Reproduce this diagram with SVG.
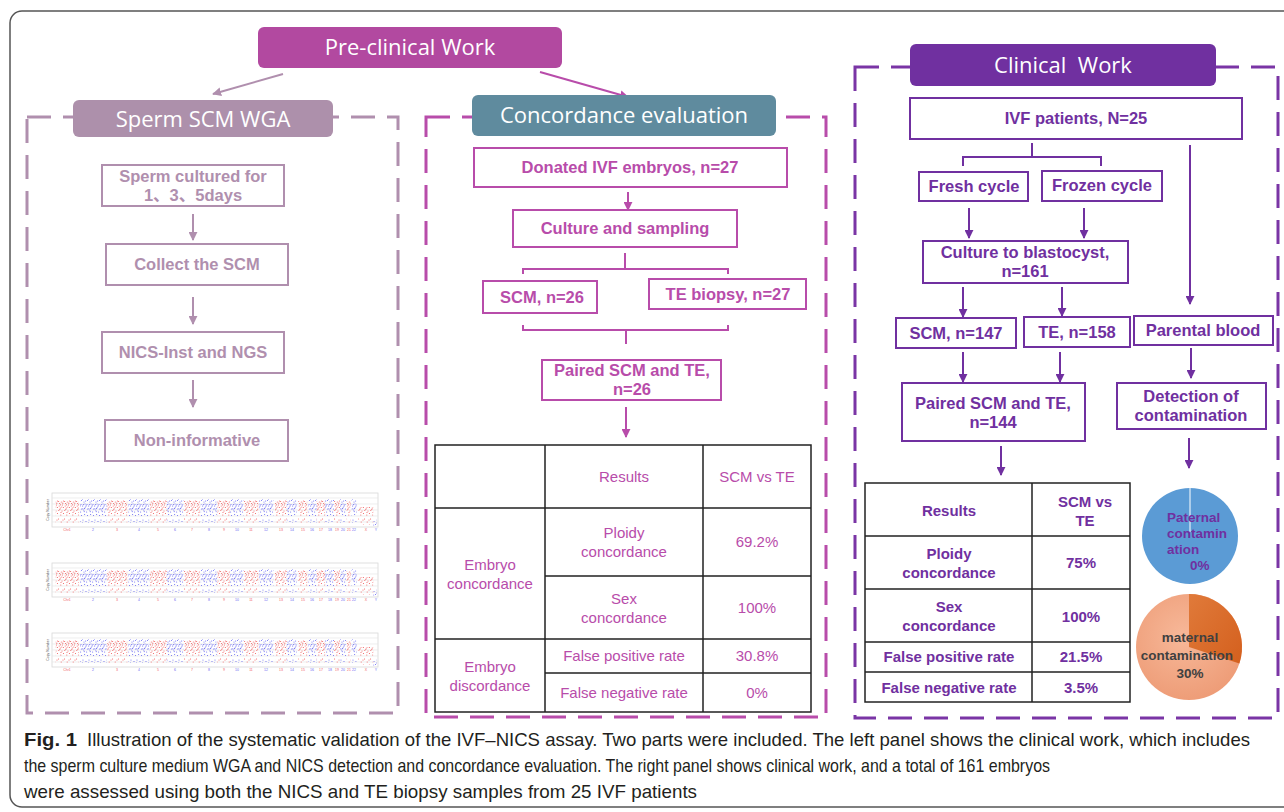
<svg xmlns="http://www.w3.org/2000/svg" xmlns:xlink="http://www.w3.org/1999/xlink" width="1284" height="812" viewBox="0 0 1284 812">
<style>
text{font-family:"Liberation Sans","Noto Sans CJK SC",sans-serif}
.hd{font-family:"Open Sans","Noto Sans",sans-serif;font-size:22px;fill:#fff;text-anchor:middle}
.lb{font-size:16.5px;font-weight:bold;text-anchor:middle}
.mv{fill:none;stroke:#b08fae;stroke-width:2}
.mg{fill:none;stroke:#b84caa;stroke-width:2}
.pp{fill:none;stroke:#7030a0;stroke-width:2}
.tmv{fill:#b08fae}.tmg{fill:#b84caa}.tpp{fill:#7030a0}
.dash{fill:none;stroke-width:3;stroke-dasharray:24 12}
.tb{fill:none;stroke:#222;stroke-width:1.5}
.tt{font-size:15px;text-anchor:middle}
.cap{font-family:"Liberation Sans",Arial,sans-serif;font-size:19px;fill:#231f20}
.grid{stroke:#e2e2e2;stroke-width:0.6}
.chl{font-size:3.5px;text-anchor:middle}
</style>
<defs>
<marker id="amv" viewBox="0 0 10 10" refX="9" refY="5" markerWidth="9" markerHeight="9" markerUnits="userSpaceOnUse" orient="auto"><path d="M0,0 L10,5 L0,10 z" fill="#b08fae"/></marker>
<marker id="amg" viewBox="0 0 10 10" refX="9" refY="5" markerWidth="9" markerHeight="9" markerUnits="userSpaceOnUse" orient="auto"><path d="M0,0 L10,5 L0,10 z" fill="#b84caa"/></marker>
<marker id="app" viewBox="0 0 10 10" refX="9" refY="5" markerWidth="9" markerHeight="9" markerUnits="userSpaceOnUse" orient="auto"><path d="M0,0 L10,5 L0,10 z" fill="#7030a0"/></marker>
<pattern id="pr" patternUnits="userSpaceOnUse" width="6" height="24">
<g fill="#f05050" opacity="0.85">
<circle cx="0.5" cy="2" r="0.6"/><circle cx="3.2" cy="5" r="0.6"/><circle cx="5.4" cy="8" r="0.6"/><circle cx="1.6" cy="10.5" r="0.6"/><circle cx="4.4" cy="12" r="0.6"/><circle cx="5.6" cy="14.5" r="0.6"/><circle cx="2.3" cy="15" r="0.6"/><circle cx="0.8" cy="17.5" r="0.6"/><circle cx="4" cy="18" r="0.6"/><circle cx="5.5" cy="20.5" r="0.6"/><circle cx="2.8" cy="22" r="0.6"/><circle cx="1.2" cy="13" r="0.6"/><circle cx="5" cy="3" r="0.6"/><circle cx="3.3" cy="9" r="0.6"/><circle cx="2.5" cy="11.8" r="0.6"/><circle cx="0.6" cy="8.5" r="0.6"/><circle cx="3.8" cy="14" r="0.6"/><circle cx="1.8" cy="16.3" r="0.6"/><circle cx="4.8" cy="10.2" r="0.6"/><circle cx="3" cy="19.5" r="0.6"/>
</g></pattern>
<pattern id="pb" patternUnits="userSpaceOnUse" width="6" height="24">
<g fill="#5a5af0" opacity="0.85">
<circle cx="1" cy="3" r="0.6"/><circle cx="4" cy="4.5" r="0.6"/><circle cx="5.6" cy="7.5" r="0.6"/><circle cx="2" cy="9" r="0.6"/><circle cx="5" cy="11.5" r="0.6"/><circle cx="0.6" cy="13" r="0.6"/><circle cx="3.4" cy="14" r="0.6"/><circle cx="5.4" cy="16" r="0.6"/><circle cx="1.8" cy="17" r="0.6"/><circle cx="4.6" cy="19" r="0.6"/><circle cx="2.6" cy="21.5" r="0.6"/><circle cx="5.6" cy="22.5" r="0.6"/><circle cx="3" cy="11" r="0.6"/><circle cx="0.4" cy="6" r="0.6"/><circle cx="1.4" cy="11.6" r="0.6"/><circle cx="4.2" cy="12.8" r="0.6"/><circle cx="2.6" cy="15.4" r="0.6"/><circle cx="0.8" cy="15.8" r="0.6"/><circle cx="3.6" cy="8" r="0.6"/><circle cx="2.2" cy="18.6" r="0.6"/>
</g></pattern>
<radialGradient id="gpeach" cx="0.45" cy="0.4" r="0.6"><stop offset="0" stop-color="#f7b899"/><stop offset="1" stop-color="#ee9d78"/></radialGradient>
<linearGradient id="gorange" x1="0" y1="0" x2="1" y2="1"><stop offset="0" stop-color="#e07a3a"/><stop offset="1" stop-color="#d4601e"/></linearGradient>
<g id="chart">
<rect x="0" y="0" width="326" height="34" fill="#fff" stroke="#d8d8d8" stroke-width="0.8"/>
<line class="grid" x1="0" y1="5" x2="326" y2="5"/><line class="grid" x1="0" y1="11" x2="326" y2="11"/><line class="grid" x1="0" y1="17" x2="326" y2="17"/><line class="grid" x1="0" y1="23" x2="326" y2="23"/><line class="grid" x1="0" y1="29" x2="326" y2="29"/>
<g>
<rect x="3.7" y="6" width="23.3" height="24" fill="url(#pr)"/>
<rect x="28" y="6" width="26.7" height="24" fill="url(#pb)"/>
<rect x="55.3" y="6" width="20" height="24" fill="url(#pr)"/>
<rect x="76.3" y="6" width="21" height="24" fill="url(#pb)"/>
<rect x="98" y="6" width="16.7" height="24" fill="url(#pr)"/>
<rect x="114.7" y="6" width="16.6" height="24" fill="url(#pb)"/>
<rect x="132" y="6" width="16" height="24" fill="url(#pr)"/>
<rect x="148.7" y="6" width="16" height="24" fill="url(#pb)"/>
<rect x="165.3" y="6" width="12.7" height="24" fill="url(#pr)"/>
<rect x="178" y="6" width="13.3" height="24" fill="url(#pb)"/>
<rect x="192" y="6" width="14.3" height="24" fill="url(#pr)"/>
<rect x="207" y="6" width="14.3" height="24" fill="url(#pb)"/>
<rect x="223" y="6" width="11.7" height="24" fill="url(#pr)"/>
<rect x="234.7" y="6" width="10" height="24" fill="url(#pb)"/>
<rect x="246.3" y="6" width="9" height="24" fill="url(#pr)"/>
<rect x="256.3" y="6" width="8.4" height="24" fill="url(#pb)"/>
<rect x="264.7" y="6" width="8.3" height="24" fill="url(#pr)"/>
<rect x="273" y="6" width="9" height="24" fill="url(#pb)"/>
<rect x="282" y="6" width="6" height="24" fill="url(#pr)"/>
<rect x="288" y="6" width="6" height="24" fill="url(#pb)"/>
<rect x="294.7" y="6" width="4" height="24" fill="url(#pr)"/>
<rect x="299.7" y="6" width="5" height="24" fill="url(#pb)"/>
<rect x="306.3" y="14" width="15" height="18" fill="url(#pr)"/>
<rect x="321.3" y="24" width="3.4" height="9" fill="url(#pb)"/>
</g>
<text class="chl" x="-3" y="17" transform="rotate(-90 -3 17)" fill="#555">Copy Number</text>
<g class="chl">
<text x="15" y="37.5" fill="#f06060">Chr1</text><text x="41" y="37.5" fill="#6a6af0">2</text><text x="65" y="37.5" fill="#f06060">3</text><text x="87" y="37.5" fill="#6a6af0">4</text><text x="106" y="37.5" fill="#f06060">5</text><text x="123" y="37.5" fill="#6a6af0">6</text><text x="140" y="37.5" fill="#f06060">7</text><text x="157" y="37.5" fill="#6a6af0">8</text><text x="172" y="37.5" fill="#f06060">9</text><text x="185" y="37.5" fill="#6a6af0">10</text><text x="199" y="37.5" fill="#f06060">11</text><text x="214" y="37.5" fill="#6a6af0">12</text><text x="229" y="37.5" fill="#f06060">13</text><text x="240" y="37.5" fill="#6a6af0">14</text><text x="251" y="37.5" fill="#f06060">15</text><text x="260" y="37.5" fill="#6a6af0">16</text><text x="269" y="37.5" fill="#f06060">17</text><text x="278" y="37.5" fill="#6a6af0">18</text><text x="285" y="37.5" fill="#f06060">19</text><text x="291" y="37.5" fill="#6a6af0">20</text><text x="297" y="37.5" fill="#f06060">21</text><text x="302" y="37.5" fill="#6a6af0">22</text><text x="314" y="37.5" fill="#f06060">X</text><text x="324" y="37.5" fill="#6a6af0">Y</text>
</g>
</g>
</defs>

<rect x="0" y="0" width="1284" height="812" fill="#fff"/>
<rect x="10" y="11" width="1290" height="796" rx="12" fill="none" stroke="#555" stroke-width="1.5"/>

<g id="frames">
<rect class="dash" x="27" y="117" width="371" height="596" stroke="#b08fae"/>
<rect class="dash" x="426" y="117" width="400" height="600" stroke="#b84caa"/>
<rect class="dash" x="855" y="67" width="423" height="651" stroke="#7a35a5"/>
</g>

<g id="connectors">
<line class="mv" x1="283" y1="74" x2="213" y2="94" marker-end="url(#amv)"/>
<line class="mg" x1="540" y1="72" x2="628" y2="97" marker-end="url(#amg)"/>
<line class="mv" x1="193" y1="214" x2="193" y2="240" marker-end="url(#amv)"/>
<line class="mv" x1="193" y1="297" x2="193" y2="324" marker-end="url(#amv)"/>
<line class="mv" x1="193" y1="380" x2="193" y2="407" marker-end="url(#amv)"/>
<line class="mg" x1="628" y1="192" x2="628" y2="210" marker-end="url(#amg)"/>
<path class="mg" d="M625,253 V269 M523,274 V269 H728 V274"/>
<path class="mg" d="M523,325 V330 H728 V325 M626,330 V344"/>
<line class="mg" x1="626" y1="407" x2="626" y2="437" marker-end="url(#amg)"/>
<path class="pp" d="M1032,143 V157 M963,166 V157 H1101 V166"/>
<line class="pp" x1="1190" y1="145" x2="1190" y2="304" marker-end="url(#app)"/>
<line class="pp" x1="969" y1="208" x2="969" y2="238" marker-end="url(#app)"/>
<line class="pp" x1="1084" y1="208" x2="1084" y2="238" marker-end="url(#app)"/>
<line class="pp" x1="963" y1="287" x2="963" y2="317" marker-end="url(#app)"/>
<line class="pp" x1="1062" y1="287" x2="1062" y2="316" marker-end="url(#app)"/>
<line class="pp" x1="963" y1="352" x2="963" y2="382" marker-end="url(#app)"/>
<line class="pp" x1="1060" y1="352" x2="1060" y2="382" marker-end="url(#app)"/>
<line class="pp" x1="1191" y1="348" x2="1191" y2="378" marker-end="url(#app)"/>
<line class="pp" x1="1001" y1="446" x2="1001" y2="475" marker-end="url(#app)"/>
<line class="pp" x1="1189" y1="438" x2="1189" y2="468" marker-end="url(#app)"/>
</g>

<g id="pre-clinical">
<rect x="258" y="27" width="304" height="41" rx="6" fill="#b249a0"/>
<text class="hd" x="410" y="55">Pre-clinical Work</text>
</g>
<g id="sperm-scm-wga">
<rect x="73" y="100" width="260" height="37" rx="6" fill="#ad90ab"/>
<text class="hd" x="203" y="127">Sperm SCM WGA</text>
</g>
<g id="concordance-evaluation">
<rect x="472" y="95" width="304" height="41" rx="6" fill="#5f8b9e"/>
<text class="hd" x="624" y="123">Concordance evaluation</text>
</g>
<g id="clinical-work">
<rect x="910" y="44" width="306" height="42" rx="6" fill="#7030a0"/>
<text class="hd" x="1063" y="73" xml:space="preserve">Clinical  Work</text>
</g>

<g id="sperm-cultured">
<rect class="mv" x="102" y="165" width="182" height="41"/>
<text class="lb tmv" x="193" y="182">Sperm cultured for</text>
<text class="lb tmv" x="193" y="201">1、3、5days</text>
</g>
<g id="collect-scm">
<rect class="mv" x="106" y="244" width="182" height="41"/>
<text class="lb tmv" x="197" y="270">Collect the SCM</text>
</g>
<g id="nics-inst">
<rect class="mv" x="102" y="332" width="182" height="41"/>
<text class="lb tmv" x="193" y="358">NICS-Inst and NGS</text>
</g>
<g id="non-informative">
<rect class="mv" x="105" y="420" width="183" height="41"/>
<text class="lb tmv" x="197" y="446">Non-informative</text>
</g>

<g id="cnv-plots">
<use xlink:href="#chart" transform="translate(52,493)"/>
<use xlink:href="#chart" transform="translate(52,563)"/>
<use xlink:href="#chart" transform="translate(52,633)"/>
</g>

<g id="donated">
<rect class="mg" x="474" y="148" width="313" height="39"/>
<text class="lb tmg" x="630" y="173">Donated IVF embryos, n=27</text>
</g>
<g id="culture-sampling">
<rect class="mg" x="513" y="210" width="224" height="37"/>
<text class="lb tmg" x="625" y="234">Culture and sampling</text>
</g>
<g id="scm-26">
<rect class="mg" x="483" y="281" width="114" height="32"/>
<text class="lb tmg" x="542" y="303">SCM, n=26</text>
</g>
<g id="te-biopsy">
<rect class="mg" x="649" y="279" width="157" height="30"/>
<text class="lb tmg" x="728" y="300">TE biopsy, n=27</text>
</g>
<g id="paired-26">
<rect class="mg" x="542" y="360" width="179" height="40"/>
<text class="lb tmg" x="632" y="376">Paired SCM and TE,</text>
<text class="lb tmg" x="632" y="395">n=26</text>
</g>

<g id="table-preclinical">
<rect class="tb" x="435" y="445" width="376" height="267"/>
<path class="tb" d="M545,445 V712 M703,445 V712 M435,508 H811 M545,576 H811 M435,639 H811 M545,673 H811"/>
<g class="tt tmg">
<text x="624" y="482">Results</text>
<text x="757" y="482">SCM vs TE</text>
<text x="624" y="538">Ploidy</text>
<text x="624" y="557">concordance</text>
<text x="757" y="547">69.2%</text>
<text x="490" y="570">Embryo</text>
<text x="490" y="589">concordance</text>
<text x="624" y="604">Sex</text>
<text x="624" y="623">concordance</text>
<text x="757" y="613">100%</text>
<text x="490" y="672">Embryo</text>
<text x="490" y="691">discordance</text>
<text x="624" y="661">False positive rate</text>
<text x="757" y="661">30.8%</text>
<text x="624" y="698">False negative rate</text>
<text x="757" y="698">0%</text>
</g>
</g>

<g id="ivf-patients">
<rect class="pp" x="910" y="98" width="332" height="41"/>
<text class="lb tpp" x="1076" y="124">IVF patients, N=25</text>
</g>
<g id="fresh-cycle">
<rect class="pp" x="919" y="172" width="109" height="29"/>
<text class="lb tpp" x="974" y="192">Fresh cycle</text>
</g>
<g id="frozen-cycle">
<rect class="pp" x="1042" y="171" width="120" height="30"/>
<text class="lb tpp" x="1102" y="191">Frozen cycle</text>
</g>
<g id="culture-blastocyst">
<rect class="pp" x="923" y="241" width="205" height="42"/>
<text class="lb tpp" x="1025" y="258">Culture to blastocyst,</text>
<text class="lb tpp" x="1025" y="277">n=161</text>
</g>
<g id="scm-147">
<rect class="pp" x="896" y="318" width="120" height="30"/>
<text class="lb tpp" x="956" y="339">SCM, n=147</text>
</g>
<g id="te-158">
<rect class="pp" x="1024" y="317" width="106" height="30"/>
<text class="lb tpp" x="1077" y="338">TE, n=158</text>
</g>
<g id="parental-blood">
<rect class="pp" x="1134" y="316" width="139" height="29"/>
<text class="lb tpp" x="1203" y="336">Parental blood</text>
</g>
<g id="paired-144">
<rect class="pp" x="902" y="383" width="183" height="58"/>
<text class="lb tpp" x="993" y="409">Paired SCM and TE,</text>
<text class="lb tpp" x="993" y="428">n=144</text>
</g>
<g id="detection">
<rect class="pp" x="1117" y="383" width="149" height="46"/>
<text class="lb tpp" x="1191" y="402">Detection of</text>
<text class="lb tpp" x="1191" y="421">contamination</text>
</g>

<g id="table-clinical">
<rect class="tb" x="865" y="483" width="265" height="219"/>
<path class="tb" d="M1032,483 V702 M865,536 H1130 M865,589 H1130 M865,642 H1130 M865,672 H1130"/>
<g class="tt tpp" font-weight="bold" font-size="15">
<text x="949" y="516">Results</text>
<text x="1085" y="507">SCM vs</text>
<text x="1085" y="526">TE</text>
<text x="949" y="559">Ploidy</text>
<text x="949" y="578">concordance</text>
<text x="1081" y="568">75%</text>
<text x="949" y="612">Sex</text>
<text x="949" y="631">concordance</text>
<text x="1081" y="622">100%</text>
<text x="949" y="662">False positive rate</text>
<text x="1081" y="662">21.5%</text>
<text x="949" y="693">False negative rate</text>
<text x="1081" y="693">3.5%</text>
</g>
</g>

<g id="pie-paternal">
<circle cx="1190" cy="536" r="48" fill="#5b9bd5"/>
<line x1="1190" y1="488" x2="1190" y2="532" stroke="#fff" stroke-width="1"/>
<g font-size="13.5" font-weight="bold" fill="#7030a0">
<text x="1167" y="522">Paternal</text>
<text x="1167" y="538">contamin</text>
<text x="1167" y="554">ation</text>
<text x="1190" y="570">0%</text>
</g>
</g>
<g id="pie-maternal">
<circle cx="1189" cy="647" r="53" fill="url(#gpeach)"/>
<path d="M1189,647 L1189,594 A53,53 0 0 1 1239.4,663.4 Z" fill="url(#gorange)"/>
<g font-size="13.5" font-weight="bold" fill="#404040" text-anchor="middle">
<text x="1190" y="642">maternal</text>
<text x="1187" y="660">contamination</text>
<text x="1190" y="678">30%</text>
</g>
</g>

<g id="caption">
<text class="cap" x="24" y="746" font-weight="bold" textLength="53" lengthAdjust="spacingAndGlyphs">Fig. 1</text>
<text class="cap" x="87" y="746" textLength="1163" lengthAdjust="spacingAndGlyphs">Illustration of the systematic validation of the IVF–NICS assay. Two parts were included. The left panel shows the clinical work, which includes</text>
<text class="cap" x="24" y="772" textLength="1026" lengthAdjust="spacingAndGlyphs">the sperm culture medium WGA and NICS detection and concordance evaluation. The right panel shows clinical work, and a total of 161 embryos</text>
<text class="cap" x="24" y="798" textLength="673" lengthAdjust="spacingAndGlyphs">were assessed using both the NICS and TE biopsy samples from 25 IVF patients</text>
</g>
</svg>
